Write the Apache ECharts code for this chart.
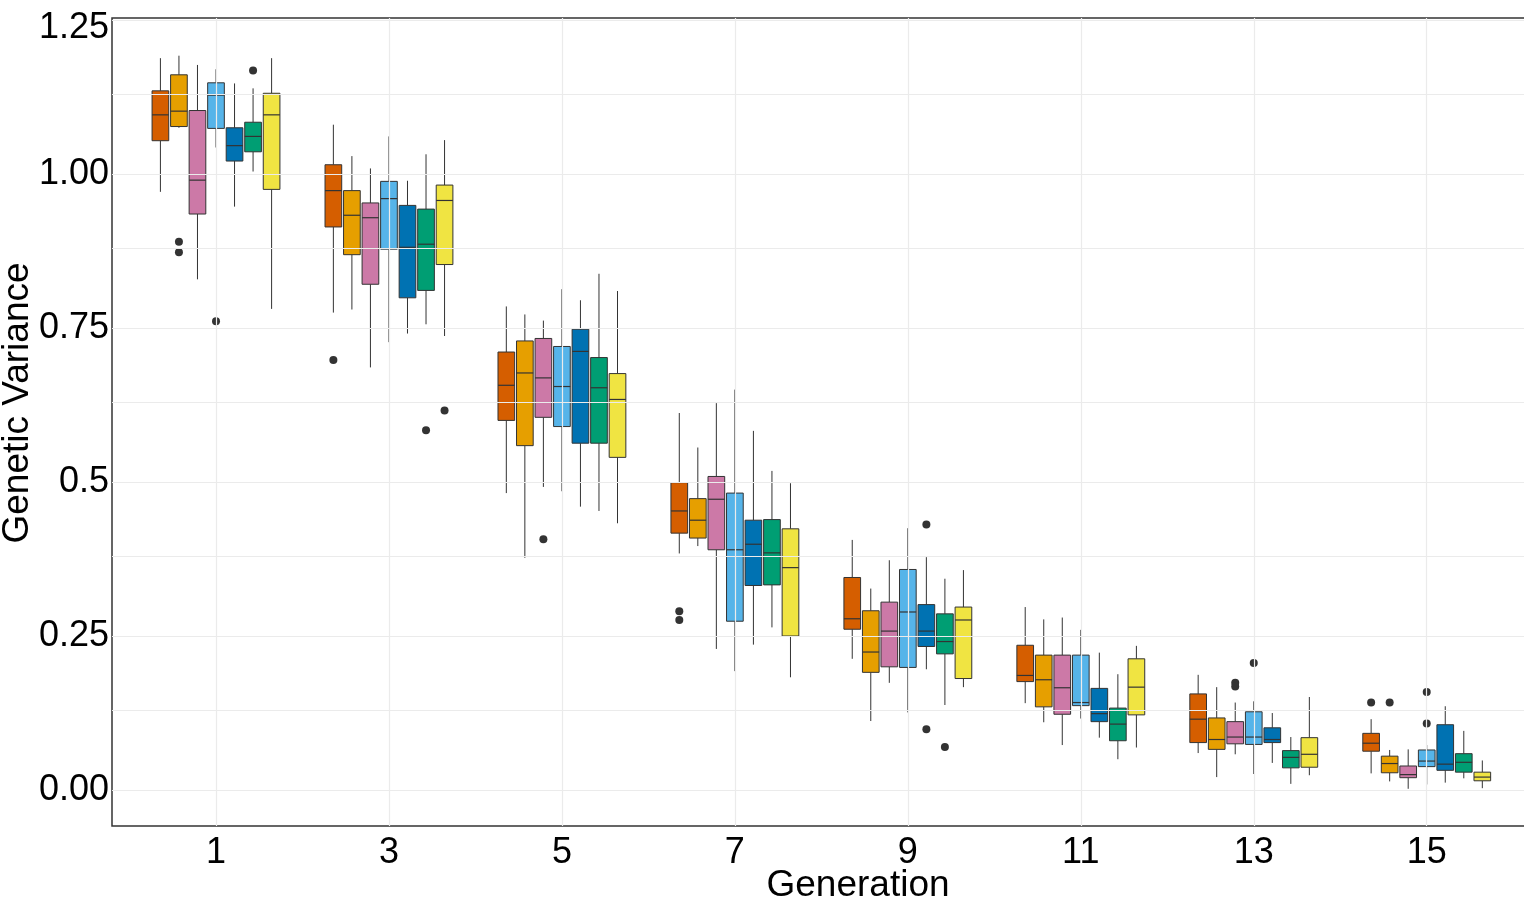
<!DOCTYPE html>
<html>
<head>
<meta charset="utf-8">
<script src="https://cdn.jsdelivr.net/npm/echarts@6/dist/echarts.min.js"></script>
<style>
  html, body { margin: 0; padding: 0; background: #ffffff; }
  #chart { width: 1524px; height: 903px; }
</style>
</head>
<body>
<div id="chart"></div>
<script>
// Generations sampled on the x axis
const generations = [1, 3, 5, 7, 9, 11, 13, 15];

// Five-number summaries per generation: [lower whisker, Q1, median, Q3, upper whisker]
const scenario1 = [
  [0.971, 1.054, 1.096, 1.135, 1.188],
  [0.775, 0.914, 0.973, 1.015, 1.080],
  [0.482, 0.600, 0.657, 0.711, 0.785],
  [0.384, 0.417, 0.453, 0.499, 0.612],
  [0.213, 0.261, 0.278, 0.345, 0.406],
  [0.141, 0.176, 0.186, 0.235, 0.297],
  [0.060, 0.077, 0.115, 0.156, 0.187],
  [0.027, 0.063, 0.076, 0.092, 0.115]
];
const scenario2 = [
  [1.075, 1.077, 1.102, 1.161, 1.192],
  [0.780, 0.869, 0.933, 0.973, 1.029],
  [0.377, 0.559, 0.677, 0.729, 0.772],
  [0.396, 0.409, 0.438, 0.473, 0.556],
  [0.112, 0.191, 0.224, 0.291, 0.327],
  [0.110, 0.135, 0.179, 0.219, 0.277],
  [0.021, 0.066, 0.082, 0.117, 0.167],
  [0.014, 0.028, 0.043, 0.055, 0.065]
];
const scenario3 = [
  [0.829, 0.935, 0.990, 1.103, 1.177],
  [0.686, 0.821, 0.929, 0.953, 1.009],
  [0.492, 0.605, 0.669, 0.733, 0.762],
  [0.229, 0.390, 0.472, 0.509, 0.628],
  [0.174, 0.200, 0.258, 0.305, 0.373],
  [0.073, 0.123, 0.166, 0.219, 0.280],
  [0.058, 0.075, 0.086, 0.111, 0.142],
  [0.002, 0.020, 0.025, 0.039, 0.066]
];
const scenario4 = [
  [1.043, 1.074, 1.128, 1.148, 1.170],
  [0.727, 0.878, 0.960, 0.988, 1.061],
  [0.485, 0.590, 0.655, 0.720, 0.813],
  [0.193, 0.274, 0.390, 0.482, 0.650],
  [0.126, 0.199, 0.289, 0.358, 0.425],
  [0.116, 0.137, 0.142, 0.219, 0.260],
  [0.026, 0.074, 0.086, 0.127, 0.144],
  [0.009, 0.038, 0.047, 0.065, 0.073]
];
const scenario5 = [
  [0.947, 1.021, 1.046, 1.075, 1.147],
  [0.741, 0.799, 0.881, 0.949, 0.989],
  [0.460, 0.563, 0.712, 0.748, 0.795],
  [0.236, 0.332, 0.399, 0.438, 0.583],
  [0.196, 0.233, 0.258, 0.301, 0.378],
  [0.085, 0.111, 0.124, 0.165, 0.223],
  [0.044, 0.077, 0.082, 0.101, 0.125],
  [0.012, 0.032, 0.042, 0.106, 0.136]
];
const scenario6 = [
  [1.004, 1.036, 1.061, 1.084, 1.139],
  [0.756, 0.811, 0.886, 0.943, 1.032],
  [0.453, 0.563, 0.653, 0.702, 0.838],
  [0.264, 0.333, 0.385, 0.439, 0.518],
  [0.138, 0.221, 0.241, 0.286, 0.343],
  [0.050, 0.080, 0.107, 0.133, 0.188],
  [0.010, 0.036, 0.053, 0.064, 0.086],
  [0.019, 0.029, 0.045, 0.059, 0.096]
];
const scenario7 = [
  [0.781, 0.975, 1.096, 1.131, 1.188],
  [0.737, 0.853, 0.957, 0.982, 1.055],
  [0.433, 0.540, 0.634, 0.676, 0.810],
  [0.183, 0.250, 0.361, 0.424, 0.498],
  [0.167, 0.181, 0.276, 0.297, 0.357],
  [0.069, 0.122, 0.167, 0.213, 0.234],
  [0.024, 0.037, 0.058, 0.085, 0.151],
  [0.003, 0.015, 0.021, 0.029, 0.048]
];

// Outlying runs: [generation, genetic variance]
const outliers1 = [[3, 0.698], [7, 0.290], [7, 0.276], [15, 0.142]];
const outliers2 = [[1, 0.890], [1, 0.873], [15, 0.142]];
const outliers3 = [[5, 0.407], [13, 0.174], [13, 0.168]];
const outliers4 = [[1, 0.761], [13, 0.206], [15, 0.159], [15, 0.108]];
const outliers5 = [[9, 0.431], [9, 0.0985]];
const outliers6 = [[1, 1.168], [3, 0.584], [9, 0.070]];
const outliers7 = [[3, 0.616]];

// Axis ticks
const xTickValues = [1, 3, 5, 7, 9, 11, 13, 15];
const yTickValues = [0, 0.25, 0.5, 0.75, 1, 1.25];
const yTickLabels = ['0.00', '0.25', '0.5', '0.75', '1.00', '1.25'];
const yGridValues = [0, 0.125, 0.25, 0.375, 0.5, 0.625, 0.75, 0.875, 1, 1.125, 1.25];

const summaries = [scenario1, scenario2, scenario3, scenario4, scenario5, scenario6, scenario7];
const outlierSets = [outliers1, outliers2, outliers3, outliers4, outliers5, outliers6, outliers7];
const colors = ['#D55E00', '#E69F00', '#CC79A7', '#56B4E9', '#0072B2', '#009E73', '#F0E442'];

// Dodge layout: 7 boxes share 0.75 of the 2-generation spacing
const nGroups = summaries.length;
const slot = 0.75 * 2 / nGroups;
const boxWidth = slot * 0.9;
const ink = '#333333';
const fontFamily = '"Liberation Sans", Arial, sans-serif';

function boxRenderer(k) {
  const offset = (k - (nGroups - 1) / 2) * slot;
  return function (params, api) {
    const x = api.value(0) + offset;
    const pLow = api.coord([x, api.value(1)]);
    const pQ1 = api.coord([x, api.value(2)]);
    const pMed = api.coord([x, api.value(3)]);
    const pQ3 = api.coord([x, api.value(4)]);
    const pHigh = api.coord([x, api.value(5)]);
    const half = api.size([boxWidth, 0])[0] / 2;
    const cx = pMed[0];
    return {
      type: 'group',
      children: [
        { type: 'line', shape: { x1: cx, y1: pHigh[1], x2: cx, y2: pQ3[1] },
          style: { stroke: ink, lineWidth: 1 } },
        { type: 'line', shape: { x1: cx, y1: pQ1[1], x2: cx, y2: pLow[1] },
          style: { stroke: ink, lineWidth: 1 } },
        { type: 'rect', shape: { x: cx - half, y: pQ3[1], width: half * 2, height: pQ1[1] - pQ3[1] },
          style: { fill: colors[k], stroke: ink, lineWidth: 1 } },
        { type: 'line', shape: { x1: cx - half, y1: pMed[1], x2: cx + half, y2: pMed[1] },
          style: { stroke: ink, lineWidth: 1.2 } }
      ]
    };
  };
}

function outlierRenderer(k) {
  const offset = (k - (nGroups - 1) / 2) * slot;
  return function (params, api) {
    const p = api.coord([api.value(0) + offset, api.value(1)]);
    return { type: 'circle', shape: { cx: p[0], cy: p[1], r: 4 }, style: { fill: ink } };
  };
}

const series = [];

// Panel grid lines
series.push({
  type: 'line',
  data: [],
  z: 0,
  silent: true,
  markLine: {
    silent: true,
    symbol: 'none',
    label: { show: false },
    animation: false,
    lineStyle: { color: '#ebebeb', type: 'solid', width: 1.2 },
    emphasis: { disabled: true },
    data: xTickValues.map(v => ({ xAxis: v })).concat(yGridValues.map(v => ({ yAxis: v })))
  }
});

summaries.forEach((rows, k) => {
  series.push({
    name: 'Scenario ' + (k + 1),
    type: 'custom',
    z: 2,
    renderItem: boxRenderer(k),
    encode: { x: 0, y: [1, 2, 3, 4, 5] },
    data: rows.map((r, i) => [generations[i]].concat(r))
  });
  series.push({
    name: 'Scenario ' + (k + 1) + ' outliers',
    type: 'custom',
    z: 3,
    renderItem: outlierRenderer(k),
    encode: { x: 0, y: 1 },
    data: outlierSets[k]
  });
});

const chart = echarts.init(document.getElementById('chart'), null, { renderer: 'canvas' });
chart.setOption({
  animation: false,
  backgroundColor: '#ffffff',
  grid: {
    left: 112, right: -2, top: 18, bottom: 77,
    containLabel: false,
    outerBoundsMode: 'none',
    show: true, borderColor: ink, borderWidth: 1.5, backgroundColor: '#ffffff'
  },
  xAxis: {
    type: 'value',
    min: -0.2026,
    max: 16.148,
    name: 'Generation',
    nameLocation: 'middle',
    nameGap: 41,
    nameMoveOverlap: false,
    nameTextStyle: { fontSize: 37, color: '#000000', fontFamily: fontFamily, padding: [0, 0, 0, 78] },
    axisLine: { show: false },
    splitLine: { show: false },
    axisTick: { show: true, length: 5, customValues: xTickValues, lineStyle: { color: ink, width: 1 } },
    axisLabel: {
      show: true, customValues: xTickValues, margin: 9,
      fontSize: 36, color: '#000000', fontFamily: fontFamily
    }
  },
  yAxis: {
    type: 'value',
    min: -0.0584,
    max: 1.2532,
    name: 'Genetic Variance',
    nameLocation: 'middle',
    nameRotate: 90,
    nameGap: 76,
    nameMoveOverlap: false,
    nameTextStyle: { fontSize: 37, color: '#000000', fontFamily: fontFamily, padding: [0, 0, 0, 38] },
    axisLine: { show: false },
    splitLine: { show: false },
    axisTick: { show: true, length: 4, customValues: yTickValues, lineStyle: { color: ink, width: 1 } },
    axisLabel: {
      show: true, customValues: yTickValues, margin: 3,
      fontSize: 36, color: '#000000', fontFamily: fontFamily,
      rich: {
        edge: { fontSize: 36, color: '#000000', fontFamily: fontFamily, padding: [16, 0, 0, 0] }
      },
      formatter: function (v) {
        const i = yTickValues.findIndex(t => Math.abs(t - v) < 1e-6);
        if (i < 0) return '';
        // the topmost label sits just inside the panel edge
        return i === yTickValues.length - 1 ? '{edge|' + yTickLabels[i] + '}' : yTickLabels[i];
      }
    }
  },
  series: series
});
</script>
</body>
</html>
